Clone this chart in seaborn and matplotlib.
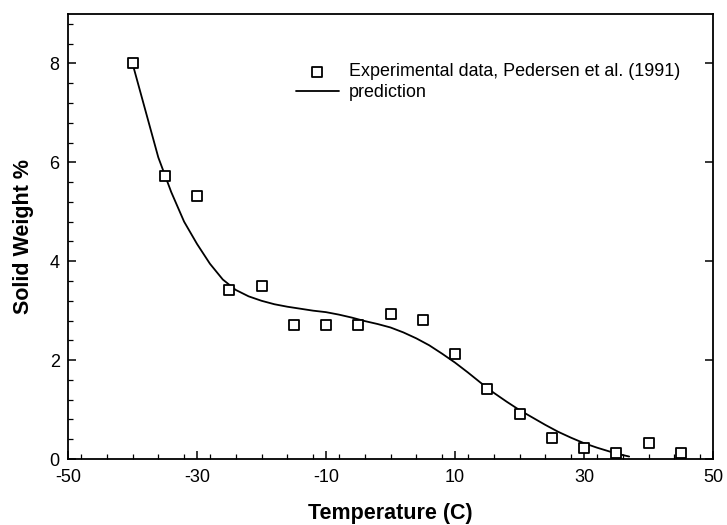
import numpy as np
import pandas as pd
import matplotlib
matplotlib.use("Agg")
import matplotlib.pyplot as plt
from matplotlib.ticker import MultipleLocator, FixedLocator
import seaborn as sns

# Experimental data (Pedersen et al. 1991)
exp_temp = [-40, -35, -30, -25, -20, -15, -10, -5, 0, 5, 10, 15, 20, 25, 30, 35, 40, 45]
exp_solid = [8.0, 5.72, 5.31, 3.41, 3.5, 2.71, 2.71, 2.71, 2.93, 2.82, 2.12, 1.41, 0.92, 0.43, 0.22, 0.13, 0.33, 0.13]

# Prediction curve
pred_temp = [-40, -38, -36, -35, -34, -32, -30, -28, -26, -24, -22, -20, -18, -16, -14, -12,
             -10, -8, -6, -4, -2, 0, 2, 4, 6, 8, 10, 12, 14, 16, 18, 20, 22, 24, 26, 28,
             30, 32, 34, 36, 37]
pred_solid = [8.0, 7.05, 6.1, 5.75, 5.4, 4.8, 4.35, 3.95, 3.63, 3.42, 3.29, 3.2, 3.13, 3.08,
              3.04, 3.0, 2.97, 2.92, 2.86, 2.79, 2.73, 2.66, 2.56, 2.44, 2.3, 2.13, 1.95,
              1.75, 1.54, 1.34, 1.16, 0.99, 0.84, 0.69, 0.55, 0.43, 0.32, 0.23, 0.15, 0.08, 0.05]

x_ticks = [-50, -30, -10, 10, 30, 50]
y_ticks = [0, 2, 4, 6, 8]

sns.set_theme(style="white")
plt.rcParams['font.family'] = ['Liberation Sans', 'DejaVu Sans']

fig = plt.figure(figsize=(7.27, 5.25), dpi=100)
ax = fig.add_axes([68/727, 1 - 459/525, (713-68)/727, (459-14)/525])

df_exp = pd.DataFrame({"T": exp_temp, "S": exp_solid})
df_pred = pd.DataFrame({"T": pred_temp, "S": pred_solid})

sns.lineplot(data=df_pred, x="T", y="S", ax=ax, color="black", linewidth=1.3,
             label="prediction", zorder=2)
sns.scatterplot(data=df_exp, x="T", y="S", ax=ax, marker="s", s=60,
                facecolor="white", edgecolor="black", linewidth=1.3,
                label="Experimental data, Pedersen et al. (1991)", zorder=3)

ax.set_xlim(-50, 50)
ax.set_ylim(0, 9)
ax.xaxis.set_major_locator(FixedLocator(x_ticks))
ax.yaxis.set_major_locator(FixedLocator(y_ticks))
ax.xaxis.set_minor_locator(MultipleLocator(4))
ax.yaxis.set_minor_locator(MultipleLocator(0.4))
ax.set_xticklabels([str(v) for v in x_ticks])
ax.set_yticklabels([str(v) for v in y_ticks])

ax.tick_params(which="both", direction="in", color="black", labelsize=13,
               labelcolor="black", left=True, bottom=True, right=False, top=False)
ax.tick_params(axis="y", pad=6)
ax.tick_params(axis="x", pad=7.5)
ax.tick_params(which="major", length=6, width=1.1)
ax.tick_params(which="minor", length=3.5, width=0.9)
ax.tick_params(axis="y", which="major", right=True)

for sp in ax.spines.values():
    sp.set_visible(True)
    sp.set_color("black")
    sp.set_linewidth(1.3)

ax.set_xlabel("Temperature (C)", fontsize=15.5, fontweight="bold", labelpad=12, color="black")
ax.set_ylabel("Solid Weight %", fontsize=15.5, fontweight="bold", labelpad=11, color="black")

handles, labels = ax.get_legend_handles_labels()
order = [1, 0]
leg = ax.legend([handles[i] for i in order], [labels[i] for i in order],
                loc="upper left", bbox_to_anchor=(0.343, 0.905), frameon=False,
                fontsize=12.9, handlelength=2.35, handletextpad=0.56, labelspacing=0.2,
                borderaxespad=0)
for t in leg.get_texts():
    t.set_color("black")

fig.savefig("out.png", dpi=100)
